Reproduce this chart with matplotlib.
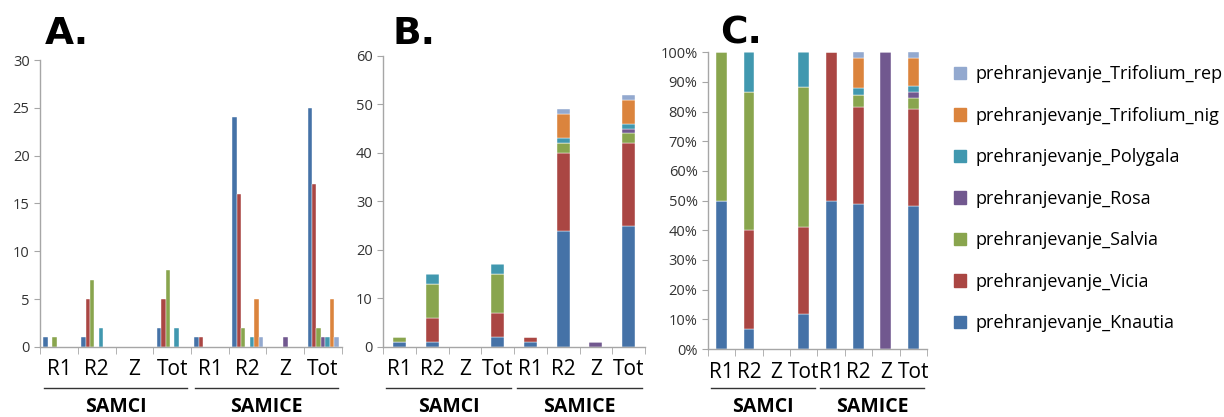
#!/usr/bin/env python3
# -*- coding: utf-8 -*-

import numpy as np
import matplotlib
matplotlib.use('Agg')
import matplotlib.pyplot as plt
import matplotlib.transforms as mtransforms

#------------------------------------------------------------------------------
# Data
#------------------------------------------------------------------------------
categories = ['R1', 'R2', 'Z', 'Tot', 'R1', 'R2', 'Z', 'Tot']
groups     = ['SAMCI', 'SAMICE']

series_names = ['prehranjevanje_Knautia',
                'prehranjevanje_Vicia',
                'prehranjevanje_Salvia',
                'prehranjevanje_Rosa',
                'prehranjevanje_Polygala',
                'prehranjevanje_Trifolium_nig',
                'prehranjevanje_Trifolium_rep']

#                     SAMCI               SAMICE
#                     R1  R2  Z  Tot      R1  R2  Z  Tot
knautia       = [1,  1,  0, 2,       1, 24, 0, 25]
vicia         = [0,  5,  0, 5,       1, 16, 0, 17]
salvia        = [1,  7,  0, 8,       0,  2, 0,  2]
rosa          = [0,  0,  0, 0,       0,  0, 1,  1]
polygala      = [0,  2,  0, 2,       0,  1, 0,  1]
trifolium_nig = [0,  0,  0, 0,       0,  5, 0,  5]
trifolium_rep = [0,  0,  0, 0,       0,  1, 0,  1]

colors = ['#4572A7', '#AA4643', '#89A54E', '#71588F',
          '#4198AF', '#DB843D', '#93A9CF']

#------------------------------------------------------------------------------
# Main
#------------------------------------------------------------------------------
def main():

  # Font
  plt.rcParams['font.family'] = ['Open Sans', 'DejaVu Sans']

  # Collect series
  values = np.array([knautia, vicia, salvia, rosa, polygala,
                     trifolium_nig, trifolium_rep], dtype=float)

  # Make new window
  fig = plt.figure(figsize=(12.24, 4.17), dpi=100)

  ax_a = fig.add_axes([0.0327, 0.168, 0.2467, 0.688])
  ax_b = fig.add_axes([0.3129, 0.168, 0.2141, 0.698])
  ax_c = fig.add_axes([0.5784, 0.163, 0.1789, 0.712])

  # Plot panels
  plot_clustered(ax_a, values)
  plot_stacked(ax_b, values)
  plot_percent(ax_c, values)

  # Panel letters
  fig.text(0.037, 0.895, 'A.', fontsize=27, fontweight='bold',
           family='DejaVu Sans')
  fig.text(0.321, 0.895, 'B.', fontsize=27, fontweight='bold',
           family='DejaVu Sans')
  fig.text(0.588, 0.895, 'C.', fontsize=27, fontweight='bold',
           family='DejaVu Sans')

  # Legend
  handles = [plt.Rectangle((0, 0), 1, 1, color=c) for c in colors]
  fig.legend(handles[::-1], series_names[::-1],
             loc='upper left', bbox_to_anchor=(0.766, 0.882),
             frameon=False, fontsize=13, handlelength=0.7,
             handleheight=0.7, handletextpad=0.5, labelspacing=1.3)

  # Save figure
  plt.savefig('out.png', dpi=100)
  plt.close()
#------------------------------------------------------------------------------

#------------------------------------------------------------------------------
# Common axes style
#------------------------------------------------------------------------------
def style_axes(ax, label_size):

  x = np.arange(len(categories))

  ax.set_xlim(-0.5, len(categories) - 0.5)
  for side in ['top', 'right']:
    ax.spines[side].set_visible(False)
  for side in ['left', 'bottom']:
    ax.spines[side].set_color('#A6A6A6')
    ax.spines[side].set_linewidth(1.0)

  # Category labels between boundary ticks
  ax.set_xticks(x)
  ax.set_xticklabels(categories, fontsize=label_size)
  ax.tick_params(axis='x', which='major', length=0, pad=9)
  ax.set_xticks(np.arange(-0.5, len(categories)), minor=True)
  ax.tick_params(axis='x', which='minor', length=5, color='#A6A6A6')
  ax.tick_params(axis='y', length=4, color='#A6A6A6', labelsize=10.5,
                 labelcolor='#333333')

  # Group underline and labels
  fig = ax.figure
  trans = mtransforms.blended_transform_factory(ax.transData,
                                                fig.transFigure)
  for g, name in enumerate(groups):
    start = g * 4 - 0.4
    end   = g * 4 + 3.4
    ax.plot([start, end], [0.07, 0.07], color='#333333', lw=1.0,
            transform=trans, clip_on=False)
    ax.text(g * 4 + 1.5, 0.024, name, transform=trans, ha='center',
            va='center', fontsize=14, fontweight='bold')
#------------------------------------------------------------------------------

#------------------------------------------------------------------------------
# Panel A: clustered bars
#------------------------------------------------------------------------------
def plot_clustered(ax, values):

  x = np.arange(len(categories))
  width = 0.117

  for i in range(len(series_names)):
    offset = (i - 3) * width
    ax.bar(x + offset, values[i], width, color=colors[i],
           edgecolor='white', linewidth=0.3)

  ax.set_ylim(0, 30)
  ax.set_yticks(np.arange(0, 31, 5))
  style_axes(ax, 15)
#------------------------------------------------------------------------------

#------------------------------------------------------------------------------
# Panel B: stacked bars
#------------------------------------------------------------------------------
def plot_stacked(ax, values):

  x = np.arange(len(categories))
  bottom = np.zeros(len(categories))

  for i in range(len(series_names)):
    ax.bar(x, values[i], 0.4, bottom=bottom, color=colors[i],
           edgecolor='white', linewidth=0.3)
    bottom += values[i]

  ax.set_ylim(0, 60)
  ax.set_yticks(np.arange(0, 61, 10))
  style_axes(ax, 15)
#------------------------------------------------------------------------------

#------------------------------------------------------------------------------
# Panel C: 100 % stacked bars
#------------------------------------------------------------------------------
def plot_percent(ax, values):

  x = np.arange(len(categories))
  total = values.sum(axis=0)
  share = np.divide(values, total, out=np.zeros_like(values),
                    where=total > 0)
  bottom = np.zeros(len(categories))

  for i in range(len(series_names)):
    ax.bar(x, share[i], 0.4, bottom=bottom, color=colors[i],
           edgecolor='white', linewidth=0.3)
    bottom += share[i]

  ax.set_ylim(0, 1)
  ax.set_yticks(np.arange(0, 1.01, 0.1))
  ax.set_yticklabels(['%d%%' % (10 * k) for k in range(11)])
  style_axes(ax, 15)
#------------------------------------------------------------------------------

#------------------------------------------------------------------------------
# Call main
#------------------------------------------------------------------------------
if __name__ == '__main__':
  main()
#------------------------------------------------------------------------------
